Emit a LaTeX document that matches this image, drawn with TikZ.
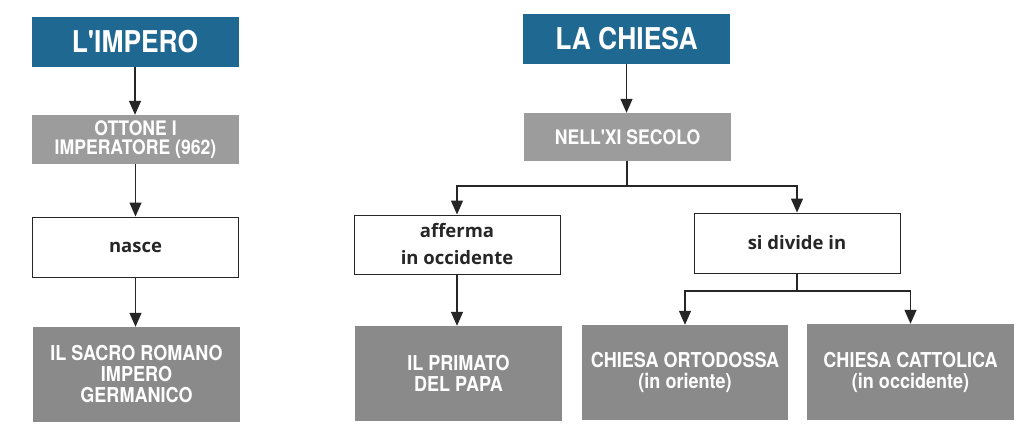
\documentclass[tikz,border=0pt]{standalone}
\usepackage{fontspec}
\usetikzlibrary{arrows.meta}
\newfontfamily\capfont[FakeStretch=0.88]{TeX Gyre Heros}
\newfontfamily\lcfont{Open Sans}
\definecolor{titleblue}{HTML}{1F6891}
\definecolor{lightgr}{HTML}{9C9C9C}
\definecolor{darkgr}{HTML}{8A8A8A}
\definecolor{linec}{HTML}{262626}
\tikzset{
  title/.style={fill=titleblue, text=white, minimum width=207pt, minimum height=50pt, inner sep=0pt,
     font=\capfont\bfseries\fontsize{30}{32}\selectfont},
  graybox/.style={fill=lightgr, text=white, minimum width=207pt, inner sep=0pt, align=center,
     font=\capfont\bfseries\fontsize{20}{19}\selectfont},
  resbox/.style={fill=darkgr, text=white, minimum width=207pt, minimum height=95pt, inner sep=0pt, align=center,
     font=\capfont\bfseries\fontsize{20.5}{21}\selectfont},
  wbox/.style={draw=linec, line width=1pt, fill=white, text=black!85, minimum width=206pt, minimum height=60pt,
     inner sep=0pt, align=center, font=\lcfont\bfseries\fontsize{18.5}{27}\selectfont},
  conn/.style={draw=linec, line width=1.3pt},
  arr/.style={conn, -{Triangle[length=14pt,width=12pt]}}
}
\begin{document}
\begin{tikzpicture}[x=1pt,y=-1pt]
\useasboundingbox[fill=white] (0,0) rectangle (1024,442);
% left column
\node[title] (imp) at (135,42) {L'IMPERO};
\node[graybox, minimum height=49pt] (ott) at (135.5,139.5) {OTTONE I\\IMPERATORE (962)};
\node[wbox] (nas) at (135.5,247) {nasce};
\node[resbox] (sac) at (136.5,374.5) {IL SACRO ROMANO\\IMPERO\\GERMANICO};
% right part
\node[title] (chi) at (626.5,39) {LA CHIESA};
\node[graybox, minimum height=48pt] (nel) at (627.5,137) {NELL'XI SECOLO};
\node[wbox, minimum height=59pt] (aff) at (457,244.5) {afferma\\in occidente};
\node[wbox] (div) at (797,243) {si divide in};
\node[resbox] (pri) at (458.5,373.5) {IL PRIMATO\\DEL PAPA};
\node[resbox, minimum width=206pt] (ort) at (685,372.5) {CHIESA ORTODOSSA\\(in oriente)};
\node[resbox, minimum height=96pt] (cat) at (910.5,372) {CHIESA CATTOLICA\\(in occidente)};
\coordinate (b1) at (627,186);
\coordinate (b2) at (797,291);
% connectors
\draw[arr] (imp.south) -- (imp.south |- ott.north);
\draw[arr] (ott.south) -- (ott.south |- nas.north);
\draw[arr] (nas.south) -- (nas.south |- sac.north);
\draw[arr] (chi.south) -- (chi.south |- nel.north);
\draw[conn] (b1 |- nel.south) -- (b1);
\draw[arr] (b1) -| (aff.north);
\draw[arr] (b1) -| (div.north);
\draw[arr] (aff.south) -- (aff.south |- pri.north);
\draw[conn] (div.south) -- (b2);
\draw[arr] (b2) -| (ort.north);
\draw[arr] (b2) -| (cat.north);
\end{tikzpicture}
\end{document}
